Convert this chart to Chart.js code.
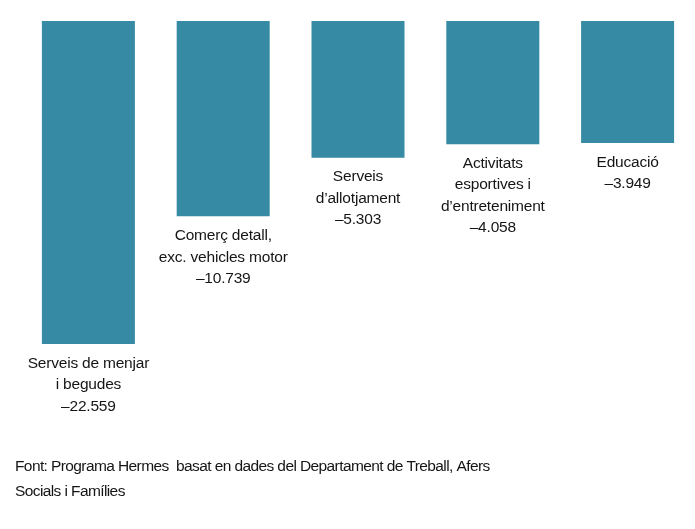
<!DOCTYPE html>
<html>
<head>
<meta charset="utf-8">
<script src="https://cdn.jsdelivr.net/npm/chart.js@4"></script>
<style>
  html, body { margin: 0; padding: 0; background: #fff; }
  #wrap { width: 695px; height: 529px; position: relative; }
</style>
</head>
<body>
<div id="wrap"><canvas id="chart"></canvas></div>
<script>
// sectors with the largest loss of jobs
const categories = [
    ['Serveis de menjar', 'i begudes'],
    ['Comerç detall,', 'exc. vehicles motor'],
    ['Serveis', 'd’allotjament'],
    ['Activitats', 'esportives i', 'd’entreteniment'],
    ['Educació']
];
const values = [-22559, -10739, -5303, -4058, -3949];
const sourceLines = [
    'Font: Programa Hermes  basat en dades del Departament de Treball, Afers',
    'Socials i Famílies'
];

// bars hang from an offset baseline, as in the original graphic
const baseValue = 7348;

function fmt(v) {
    let s = Math.abs(v).toString().replace(/\B(?=(\d{3})+(?!\d))/g, '.');
    return (v < 0 ? '–' : '') + s;
}

const labelPlugin = {
    id: 'barLabels',
    afterDatasetsDraw(chart) {
        let ctx = chart.ctx;
        let meta = chart.getDatasetMeta(0);
        ctx.save();
        ctx.fillStyle = '#151515';
        ctx.textAlign = 'center';
        ctx.textBaseline = 'middle';
        ctx.font = '15.5px "Liberation Sans", Arial, sans-serif';
        ctx.letterSpacing = '-0.2px';
        meta.data.forEach((bar, i) => {
            let lines = categories[i].concat([fmt(values[i])]);
            lines.forEach((line, j) => {
                ctx.fillText(line, bar.x, bar.y + 19.5 + j * 21.5);
            });
        });
        ctx.textAlign = 'left';
        ctx.letterSpacing = '-0.6px';
        sourceLines.forEach((line, j) => {
            ctx.fillText(line, 15, 467 + j * 25);
        });
        ctx.restore();
    }
};

let canvas = document.getElementById('chart').getContext('2d');
new Chart(canvas, {
    type: 'bar',
    data: {
        labels: categories.map(c => c.join(' ')),
        datasets: [{
            data: values,
            base: baseValue,
            backgroundColor: '#378aa3',
            categoryPercentage: 1,
            barPercentage: 0.69
        }]
    },
    options: {
        responsive: true,
        maintainAspectRatio: false,
        animation: false,
        layout: { padding: { top: 21, bottom: 185, left: 21, right: 0 } },
        plugins: { legend: { display: false }, tooltip: { enabled: false } },
        scales: {
            x: { display: false },
            y: { display: false, min: -22559, max: baseValue }
        }
    },
    plugins: [labelPlugin]
});
</script>
</body>
</html>
